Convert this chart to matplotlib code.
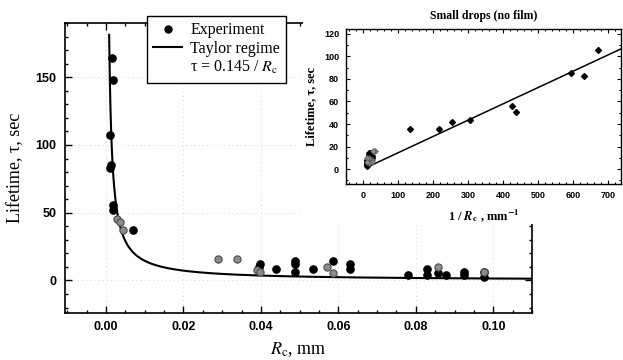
import numpy as np
import matplotlib
matplotlib.use("Agg")
import matplotlib.pyplot as plt
from matplotlib.lines import Line2D
from matplotlib.patches import Rectangle
from matplotlib.ticker import MultipleLocator, FixedLocator

plt.rcParams['font.family'] = ['Liberation Sans', 'DejaVu Sans']
plt.rcParams['mathtext.fontset'] = 'stix'

# ---- data: main plot ----
rc_black = [0.00147, 0.00173, 0.00103, 0.00121, 0.00110, 0.00189, 0.00190, 0.00705,
            0.0398, 0.0396, 0.0438, 0.0487, 0.0487, 0.0487, 0.0534, 0.0586, 0.0629, 0.0629,
            0.0780, 0.0829, 0.0829, 0.0857, 0.0879, 0.0925, 0.0925, 0.0975, 0.0975]
tau_black = [164, 148, 107, 85, 83, 56, 52, 37,
             12, 9.6, 8.3, 14.2, 11.8, 5.9, 8.3, 14.5, 12.5, 8.3,
             4.4, 8.3, 4.4, 5.2, 4.4, 5.9, 4.4, 5.9, 2.7]
rc_gray = [0.0029, 0.0037, 0.0044, 0.0290, 0.0339, 0.0389, 0.0398, 0.0570, 0.0586, 0.0857, 0.0975]
tau_gray = [45, 43, 37, 15.7, 15.7, 7.6, 5.9, 10, 5.6, 10, 6.5]
taylor_coef = 0.145

# ---- data: inset (small drops) ----
inv_big = [133, 216, 253, 305, 426, 436, 593, 629, 669]
tau_big = [36, 36, 42, 44, 56, 50.4, 85, 82.3, 106]

main_xticks = [0.00, 0.02, 0.04, 0.06, 0.08, 0.10]
main_yticks = [0, 50, 100, 150]
inset_xticks = [0, 100, 200, 300, 400, 500, 600, 700]
inset_yticks = [0, 20, 40, 60, 80, 100, 120]

W, H = 623, 360
fig = plt.figure(figsize=(W / 100, H / 100), dpi=100)

serif = ['Liberation Serif', 'DejaVu Serif']

# main axes
ax = fig.add_axes([65 / W, 47 / H, 467 / W, 290 / H])
ax.set_zorder(0)
r_line = np.linspace(0.0008, 0.110, 600)
ax.plot(r_line, taylor_coef / r_line, color='black', lw=1.5, zorder=3)
ax.plot(rc_black, tau_black, 'o', ms=5.2, color='black', mec='black', zorder=4)
ax.plot(rc_gray, tau_gray, 'o', ms=5.2, color='#8c8c8c', mec='#4a4a4a', mew=0.8, zorder=4)
ax.set_xlim(-0.0106, 0.110)
ax.set_ylim(-24, 190)
ax.xaxis.set_major_locator(FixedLocator(main_xticks))
ax.xaxis.set_minor_locator(MultipleLocator(0.005))
ax.yaxis.set_major_locator(FixedLocator(main_yticks))
ax.yaxis.set_minor_locator(MultipleLocator(10))
ax.set_xticklabels([f"{v:.2f}" for v in main_xticks])
ax.tick_params(which='both', direction='in', top=True, right=True, width=1)
ax.tick_params(which='major', length=5, labelsize=9, pad=6)
ax.tick_params(which='minor', length=2.5)
for lbl in ax.get_xticklabels() + ax.get_yticklabels():
    lbl.set_fontweight('bold')
for s in ax.spines.values():
    s.set_linewidth(1.2)
ax.grid(True, which='major', color='#c8c8c8', lw=0.6, linestyle=(0, (1, 4)))
ax.set_axisbelow(True)
ax.set_ylabel('Lifetime, τ, sec', family=serif, fontsize=13, labelpad=8)
ax.set_xlabel(r'$R_{\mathrm{c}}$, mm', family=serif, fontsize=13, labelpad=5)

handles = [Line2D([], [], marker='o', ls='none', color='black', ms=5),
           Line2D([], [], color='black', lw=1.5),
           Line2D([], [], ls='none')]
labels = ['Experiment', 'Taylor regime', r'τ = 0.145 / $R_{\mathrm{c}}$']
leg = ax.legend(handles, labels, loc='upper left', bbox_to_anchor=(147 / W, 1 - 16 / H),
                bbox_transform=fig.transFigure, borderaxespad=0, fancybox=False,
                framealpha=1, edgecolor='black', prop={'family': serif, 'size': 11.5},
                handlelength=1.8, handletextpad=0.5, labelspacing=0.15, borderpad=0.4)
leg.get_frame().set_linewidth(1.0)

# white patch hiding the main axes behind the inset
fig.patches.append(Rectangle((303 / W, (H - 224) / H), 320 / W, 224 / H,
                             transform=fig.transFigure, facecolor='white',
                             edgecolor='none', zorder=1))

# inset
ins = fig.add_axes([346 / W, (H - 184) / H, 275 / W, 155 / H])
ins.set_zorder(2)
inv_line = np.linspace(10, 736, 100)
ins.plot(inv_line, taylor_coef * inv_line, color='black', lw=1.1, zorder=3)
ins.plot(1 / np.array(rc_black[8:]), tau_black[8:], 'D', ms=3, color='black', zorder=4)
ins.plot(1 / np.array(rc_gray[3:]), tau_gray[3:], 'D', ms=3, color='#8c8c8c', mec='#555555', mew=0.5, zorder=4)
ins.plot(inv_big, tau_big, 'D', ms=3, color='black', zorder=4)
ins.set_xlim(-49, 736)
ins.set_ylim(-13.3, 124.4)
ins.xaxis.set_major_locator(FixedLocator(inset_xticks))
ins.xaxis.set_minor_locator(MultipleLocator(20))
ins.yaxis.set_major_locator(FixedLocator(inset_yticks))
ins.yaxis.set_minor_locator(MultipleLocator(10))
ins.tick_params(which='both', direction='in', top=True, right=True, width=0.8)
ins.tick_params(which='major', length=3, labelsize=6.5, pad=5)
ins.tick_params(which='minor', length=1.5)
for lbl in ins.get_xticklabels() + ins.get_yticklabels():
    lbl.set_fontweight('bold')
for s in ins.spines.values():
    s.set_linewidth(1.0)
ins.set_title('Small drops (no film)', family=serif, fontsize=8.5, fontweight='bold', pad=7)
ins.set_ylabel('Lifetime, τ, sec', family=serif, fontsize=9, fontweight='bold', labelpad=5)
ins.set_xlabel(r'1 / $\mathbfit{R}_{\mathbf{c}}$ , mm$^{\mathbf{-1}}$', family=serif,
               fontsize=9, fontweight='bold', labelpad=5)

fig.savefig('out.png', dpi=100)
